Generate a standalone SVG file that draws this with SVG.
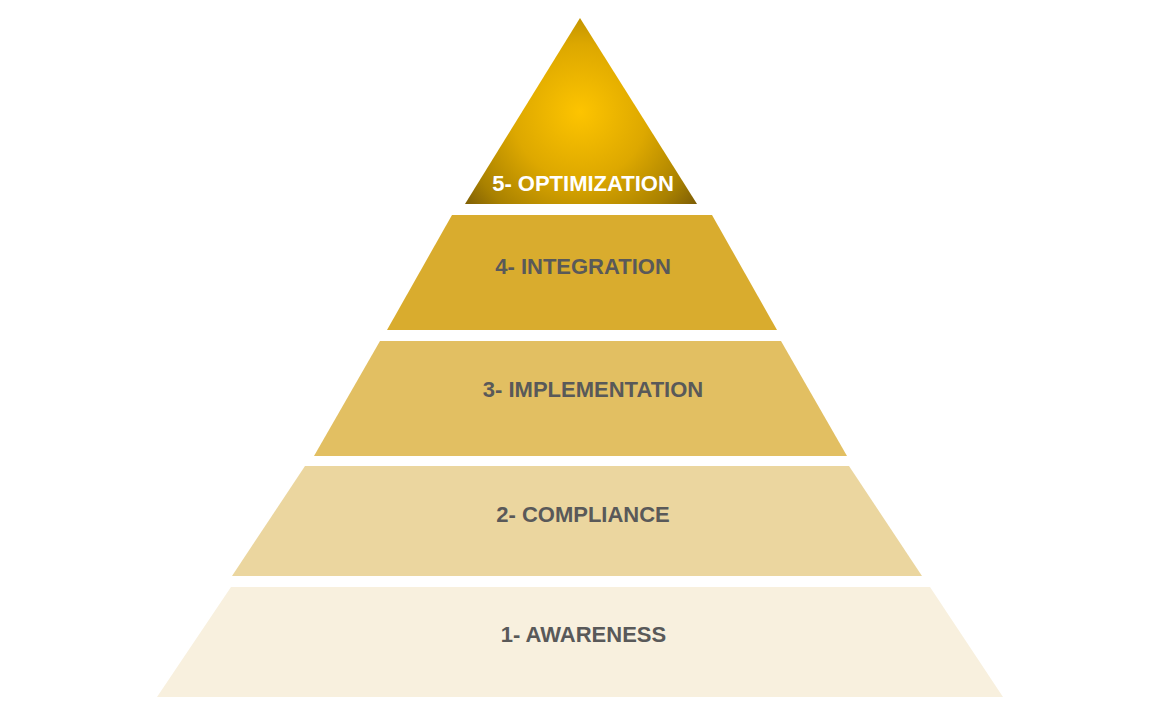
<svg xmlns="http://www.w3.org/2000/svg" width="1156" height="708" viewBox="0 0 1156 708">
  <defs>
    <radialGradient id="topGrad" gradientUnits="userSpaceOnUse" cx="580" cy="112" r="150">
      <stop offset="0" stop-color="#FDC400"/>
      <stop offset="0.45" stop-color="#DDA800"/>
      <stop offset="0.8" stop-color="#A98100"/>
      <stop offset="1" stop-color="#7A5B06"/>
    </radialGradient>
  </defs>
  <style>
    .lbl { font-family: "Liberation Sans", Arial, sans-serif; font-weight: bold; font-size: 22px; text-anchor: middle; fill: #595959; }
    .lbl-top { fill: #FFFFFF; }
  </style>
  <rect width="1156" height="708" fill="#FFFFFF"/>
  <g id="level5">
    <polygon points="580,18 697,204 465,204" fill="url(#topGrad)"/>
    <text class="lbl lbl-top" x="583" y="191">5- OPTIMIZATION</text>
  </g>
  <g id="level4">
    <polygon points="452,215 712,215 777,330 387,330" fill="#D9AC2E"/>
    <text class="lbl" x="583" y="274">4- INTEGRATION</text>
  </g>
  <g id="level3">
    <polygon points="380,341 781,341 847,456 314,456" fill="#E2BF62"/>
    <text class="lbl" x="593" y="397">3- IMPLEMENTATION</text>
  </g>
  <g id="level2">
    <polygon points="305,466 849,466 922,576 232,576" fill="#EBD69F"/>
    <text class="lbl" x="583" y="522">2- COMPLIANCE</text>
  </g>
  <g id="level1">
    <polygon points="231,587 930,587 1003,697 157,697" fill="#F8F0DE"/>
    <text class="lbl" x="583.5" y="642">1- AWARENESS</text>
  </g>
  <g id="connectors"/>
</svg>
